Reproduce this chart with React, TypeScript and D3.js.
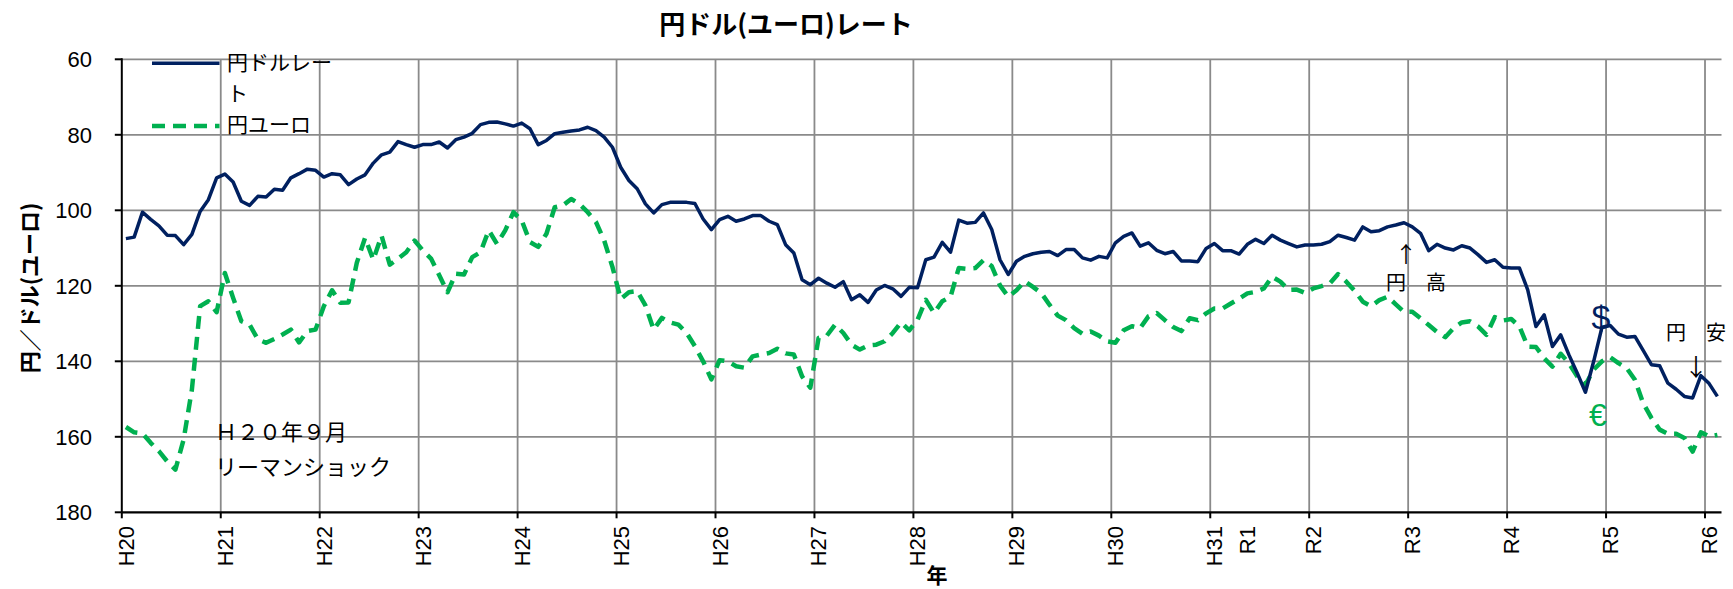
import React from 'react';
import * as d3 from 'd3';

// Monthly data, Jan 2008 (H20) .. Feb 2024 (R6)
const usdJpy: number[] = [
  107.5, 107.1, 100.5, 102.4, 104.1, 106.6, 106.7, 109.1, 106.4, 100.3, 97.2, 91.4,
  90.4, 92.5, 97.6, 98.7, 96.3, 96.5, 94.4, 94.7, 91.4, 90.3, 89.1, 89.4,
  91.2, 90.3, 90.6, 93.2, 91.7, 90.6, 87.5, 85.3, 84.6, 81.8, 82.6, 83.3,
  82.6, 82.6, 81.9, 83.5, 81.3, 80.6, 79.6, 77.3, 76.7, 76.6, 77.1, 77.7,
  76.9, 78.4, 82.6, 81.5, 79.7, 79.3, 79.0, 78.7, 78.0, 78.9, 80.6, 83.3,
  88.6, 92.1, 94.3, 98.3, 100.7, 98.5, 97.9, 97.9, 97.9, 98.2, 102.3, 105.1,
  102.5, 101.6, 102.9, 102.3, 101.4, 101.4, 102.9, 103.8, 109.1, 111.3, 118.4, 119.7,
  118.0, 119.3, 120.4, 118.9, 123.7, 122.4, 124.4, 121.1, 119.9, 120.8, 122.8, 120.4,
  120.5, 113.1, 112.4, 108.5, 111.1, 102.6, 103.4, 103.2, 100.7, 105.1, 113.1, 117.0,
  113.5, 112.2, 111.5, 111.1, 110.9, 112.0, 110.4, 110.4, 112.6, 113.2, 112.2, 112.6,
  108.6, 106.9, 106.0, 109.5, 108.6, 110.6, 111.5, 110.9, 113.4, 113.4, 113.6, 110.1,
  108.8, 110.7, 110.7, 111.6, 109.0, 107.7, 108.8, 106.6, 107.9, 108.8, 109.7, 109.2,
  109.2, 109.0, 108.3, 106.6, 107.2, 107.9, 104.4, 105.7, 105.4, 104.4, 103.9, 103.3,
  104.4, 106.1, 110.7, 109.0, 110.0, 110.5, 109.4, 110.0, 111.8, 113.8, 113.1, 115.1,
  115.3, 115.3, 121.1, 130.8, 127.7, 136.1, 133.0, 138.3, 143.1, 148.2, 140.0, 131.0,
  130.5, 132.8, 133.6, 133.4, 137.1, 140.9, 141.2, 145.8, 147.4, 149.3, 149.7, 143.8,
  145.9, 149.3,
];

const eurJpy: number[] = [
  157.4, 158.8, 159.1, 161.6, 163.8, 166.5, 168.7, 160.7, 147.5, 125.4, 124.1, 127.0,
  116.6, 123.2, 129.4, 130.3, 134.2, 135.1, 134.1, 132.9, 131.6, 135.0, 132.0, 131.6,
  125.4, 121.2, 124.5, 124.4, 113.9, 107.3, 113.1, 106.7, 114.4, 112.8, 111.1, 108.0,
  110.6, 112.8, 117.2, 121.7, 116.8, 117.0, 112.4, 111.1, 105.3, 108.9, 105.3, 100.5,
  102.7, 108.4, 109.7, 106.2, 99.2, 98.7, 97.0, 98.3, 100.5, 103.1, 108.0, 115.0,
  123.5, 121.7, 121.4, 125.2, 131.6, 128.5, 129.7, 130.3, 132.5, 136.0, 140.0, 144.8,
  139.7, 140.0, 141.3, 141.7, 138.7, 138.2, 137.8, 136.7, 137.9, 138.2, 144.0, 147.0,
  133.8, 133.2, 130.3, 132.5, 135.6, 136.9, 135.8, 135.6, 134.7, 132.5, 129.7, 131.8,
  129.0, 123.7, 127.2, 124.1, 122.9, 115.3, 115.5, 115.3, 113.2, 114.8, 119.9, 122.9,
  121.2, 118.8, 120.3, 121.9, 125.0, 127.9, 129.1, 131.2, 132.7, 132.1, 133.2, 134.7,
  135.1, 131.8, 130.7, 131.2, 128.1, 127.2, 129.1, 130.9, 132.0, 128.6, 129.1, 127.3,
  126.0, 126.0, 124.7, 123.4, 122.0, 121.6, 120.7, 117.6, 118.9, 121.1, 121.0, 121.9,
  120.7, 120.1, 119.4, 116.9, 118.9, 121.3, 124.2, 125.4, 123.8, 122.9, 124.9, 126.9,
  126.9, 128.6, 130.4, 132.2, 133.6, 131.2, 129.7, 129.4, 130.8, 133.0, 128.3, 129.2,
  128.8, 130.8, 136.1, 136.2, 139.2, 141.4, 138.0, 140.5, 144.0, 146.2, 142.2, 140.0,
  138.9, 140.5, 141.8, 144.9, 151.1, 155.0, 158.1, 159.2, 159.2, 160.3, 163.9, 158.8,
  159.9, 159.5,
];

// Month category index of each tick label
const tickLabels: string[] = ['H20', 'H21', 'H22', 'H23', 'H24', 'H25', 'H26', 'H27', 'H28', 'H29', 'H30', 'H31', 'R1', 'R2', 'R3', 'R4', 'R5', 'R6'];
const tickMonths: number[] = [0, 12, 24, 36, 48, 60, 72, 84, 96, 108, 120, 132, 136, 144, 156, 168, 180, 192];
const gridMonths: number[] = [12, 24, 36, 48, 60, 72, 84, 96, 108, 120, 132, 144, 156, 168, 180, 192];
const yTicks: number[] = [60, 80, 100, 120, 140, 160, 180];

const NAVY = '#002060';
const GREEN = '#00B050';
const GRID = '#8a8a8a';
const JP = '"Noto Sans CJK JP", "Noto Sans", sans-serif';
const LAT = '"Liberation Sans", Arial, sans-serif';

export default function App() {
  const W = 1733, H = 589;
  const left = 121.8, right = 1721.5, top = 59.3, bottom = 512.3;
  const n = usdJpy.length;
  const x = d3.scaleBand<number>().domain(d3.range(n)).range([left, right]).padding(0);
  const bw = x.bandwidth();
  const cx = (i: number) => (x(i) as number) + bw / 2;
  const y = d3.scaleLinear().domain([60, 180]).range([top, bottom]);
  const line = d3.line<number>().x((_, i) => cx(i)).y((d) => y(d));

  return (
    <svg width={W} height={H} style={{ position: 'absolute', left: 0, top: 0, background: '#fff' }}>
      <rect x={0} y={0} width={W} height={H} fill="#fff" />
      {/* horizontal grid */}
      {yTicks.filter((v) => v < 180).map((v) => (
        <line key={'h' + v} x1={left} x2={right} y1={y(v)} y2={y(v)} stroke={GRID} strokeWidth={1.8} />
      ))}
      {/* vertical grid */}
      {gridMonths.map((m) => (
        <line key={'v' + m} x1={x(m) as number} x2={x(m) as number} y1={top} y2={bottom} stroke={GRID} strokeWidth={1.8} />
      ))}
      {/* axes */}
      <line x1={left} x2={left} y1={top - 1} y2={bottom} stroke="#000" strokeWidth={2} />
      <line x1={left} x2={right} y1={bottom} y2={bottom} stroke="#000" strokeWidth={2.2} />
      {yTicks.map((v) => (
        <line key={'yt' + v} x1={left - 7} x2={left} y1={y(v)} y2={y(v)} stroke="#000" strokeWidth={2} />
      ))}
      {[0, ...gridMonths].map((m) => (
        <line key={'xt' + m} x1={x(m) as number} x2={x(m) as number} y1={bottom} y2={bottom + 6} stroke="#000" strokeWidth={2} />
      ))}
      {/* y tick labels */}
      {yTicks.map((v) => (
        <text key={'yl' + v} x={92} y={y(v)} dy="0.36em" textAnchor="end" fontFamily={LAT} fontSize={22} fill="#000">
          {v}
        </text>
      ))}
      {/* x tick labels */}
      {tickLabels.map((t, i) => (
        <text
          key={'xl' + t}
          transform={`translate(${cx(tickMonths[i])},${526}) rotate(-90)`}
          dy="0.36em"
          textAnchor="end"
          fontFamily={LAT}
          fontSize={22}
          fill="#000"
        >
          {t}
        </text>
      ))}
      {/* series */}
      <path d={line(eurJpy) || ''} fill="none" stroke={GREEN} strokeWidth={4.5} strokeDasharray="13 8" strokeLinejoin="round" />
      <path d={line(usdJpy) || ''} fill="none" stroke={NAVY} strokeWidth={3.5} strokeLinejoin="round" />

      {/* title */}
      <text x={786} y={34} textAnchor="middle" fontFamily={JP} fontWeight="bold" fontSize={26} fill="#000">
        円ドル(ユーロ)レート
      </text>
      {/* axis titles */}
      <text transform="translate(30,288) rotate(-90)" dy="0.36em" textAnchor="middle" fontFamily={JP} fontWeight="bold" fontSize={22} fill="#000">
        円／ドル(ユーロ)
      </text>
      <text x={937} y={583} textAnchor="middle" fontFamily={JP} fontWeight="bold" fontSize={21} fill="#000">
        年
      </text>

      {/* legend */}
      <line x1={152} x2={219.5} y1={63.3} y2={63.3} stroke={NAVY} strokeWidth={3.5} />
      <text x={227} y={70} fontFamily={JP} fontSize={21} fill="#000">円ドルレー</text>
      <text x={227} y={101} fontFamily={JP} fontSize={21} fill="#000">ト</text>
      <line x1={152} x2={219.5} y1={126} y2={126} stroke={GREEN} strokeWidth={4.5} strokeDasharray="13 8" />
      <text x={227} y={132} fontFamily={JP} fontSize={21} fill="#000">円ユーロ</text>

      {/* annotations */}
      <text x={215} y={440} fontFamily={JP} fontSize={22} fill="#000">Ｈ２０年９月</text>
      <text x={215} y={475} fontFamily={JP} fontSize={22} fill="#000">リーマンショック</text>
      <text x={1406} y={262} textAnchor="middle" fontFamily={JP} fontSize={22} fill="#000">↑</text>
      <text x={1386} y={290} fontFamily={JP} fontSize={20} fill="#000">円　高</text>
      <text x={1666} y={340} fontFamily={JP} fontSize={20} fill="#000">円　安</text>
      <text x={1696} y={376} textAnchor="middle" fontFamily={JP} fontSize={24} fill="#000">↓</text>
      <text x={1601} y={329} textAnchor="middle" fontFamily={LAT} fontSize={34} fill={NAVY}>$</text>
      <text x={1598} y={426} textAnchor="middle" fontFamily={LAT} fontSize={32} fill={GREEN}>€</text>
    </svg>
  );
}
